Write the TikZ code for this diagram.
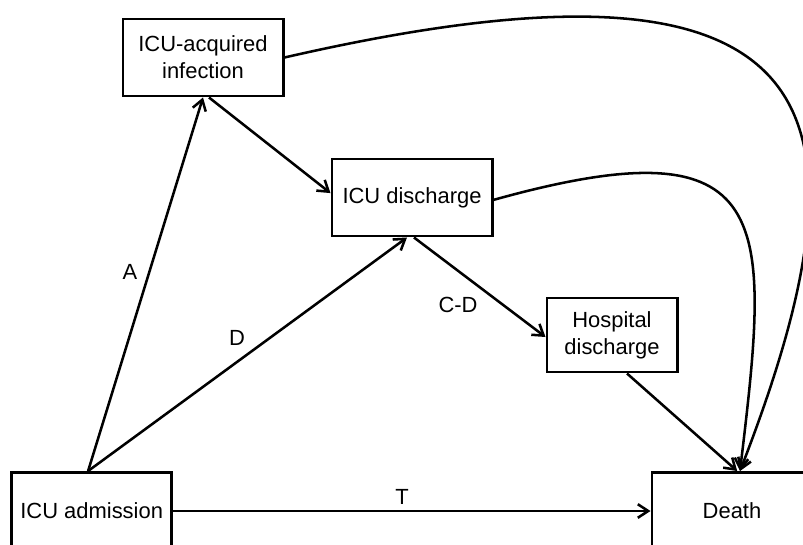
\documentclass[tikz,border=0pt]{standalone}
\usepackage{fontspec}
\setmainfont{Liberation Sans}
\usetikzlibrary{arrows.meta}

\begin{document}
\begin{tikzpicture}[
      x=0.025cm, y=-0.025cm,
      state/.style={draw=black, line width=2.1pt, fill=white,
                    minimum width=4cm, minimum height=1.925cm,
                    inner sep=2pt, align=center, anchor=center,
                    font=\fontsize{15.6pt}{19pt}\selectfont},
      trans/.style={line width=1.8pt, -{Straight Barb[length=0.26cm, width=0.34cm, line width=1.8pt]}},
      tlbl/.style={font=\fontsize{15.6pt}{19pt}\selectfont, inner sep=0pt},
    ]
    \useasboundingbox (0,0) rectangle (803,545);
    \clip (0,0) rectangle (803,545);

    %% states
    \node[state] (adm)   at (91.7, 511) {ICU admission};
    \node[state] (inf)   at (203, 57.5) {ICU-acquired\\infection};
    \node[state] (icud)  at (412, 197.5) {ICU discharge};
    \node[state, minimum width=3.25cm, minimum height=1.85cm]
                 (hosp)  at (612, 335) {Hospital\\discharge};
    \node[state] (death) at (732, 511) {Death};

    %% transitions
    \draw[trans] ([xshift=-0.09cm]adm.north) -- (inf.south);
    \draw[trans] ([xshift=-0.09cm]adm.north) -- ([xshift=-0.125cm]icud.south);
    \draw[trans] ([xshift=0.15cm]inf.south) -- ([yshift=0.11cm]icud.west);
    \draw[trans] ([xshift=0.05cm]icud.south) -- ([yshift=-0.05cm]hosp.west);
    \draw[trans] ([xshift=0.375cm]hosp.south) -- ([xshift=0.13cm]death.north);
    \draw[trans] ([yshift=-0.06cm]icud.east)
      .. controls (780,120) and (770,220) .. ([xshift=0.2cm]death.north);
    \draw[trans] (inf.east)
      .. controls (840,-70) and (880,110) .. ([xshift=0.2cm]death.north);
    \draw[trans] (adm.east) -- (death.west);

    %% labels
    \node[tlbl] (lblA)  at (130, 272) {A};
    \node[tlbl] (lblD)  at (237, 338) {D};
    \node[tlbl] (lblCD) at (458, 305) {C-D};
    \node[tlbl] (lblT)  at (402, 497) {T};
\end{tikzpicture}
\end{document}
